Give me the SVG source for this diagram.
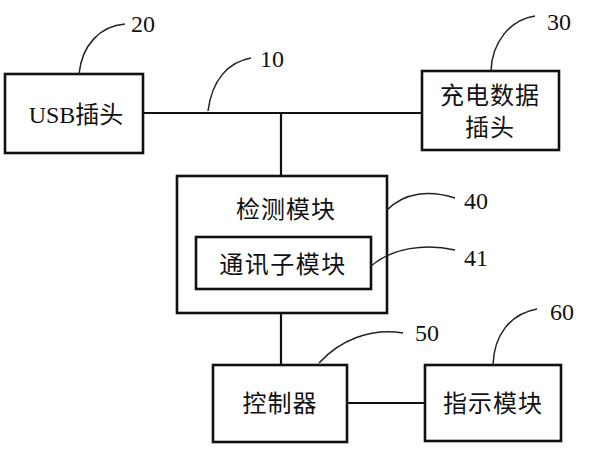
<svg xmlns="http://www.w3.org/2000/svg" width="596" height="450" viewBox="0 0 596 450">
<style>
.box{fill:none;stroke:#111;stroke-width:2.6}
.ln{fill:none;stroke:#111;stroke-width:2.2}
.ld{fill:none;stroke:#222;stroke-width:1.5}
.t{font-family:"Liberation Serif","DejaVu Serif","Noto Sans CJK SC",serif;font-size:24px;fill:#111;text-anchor:middle}
.n{font-family:"Liberation Serif","DejaVu Serif",serif;font-size:24px;fill:#111}
</style>
<rect width="596" height="450" fill="#fff"/>
<g id="connectors">
<path class="ln" d="M143,113 H422 M281,113 V176 M281,313 V365 M347,403 H425"/>
</g>
<g id="usb">
<rect class="box" x="5" y="74" width="138" height="79"/>
<text class="t" x="76" y="123">USB插头</text>
</g>
<g id="charge">
<rect class="box" x="422" y="71" width="137" height="79"/>
<text class="t" x="490" y="104" letter-spacing="1">充电数据</text>
<text class="t" x="490" y="136" letter-spacing="1">插头</text>
</g>
<g id="detect">
<rect class="box" x="177" y="176" width="210" height="137"/>
<text class="t" x="286" y="218" letter-spacing="1">检测模块</text>
</g>
<g id="comm">
<rect class="box" x="196" y="237" width="175" height="52"/>
<text class="t" x="283" y="273" letter-spacing="1.5">通讯子模块</text>
</g>
<g id="controller">
<rect class="box" x="213" y="365" width="134" height="77"/>
<text class="t" x="280" y="412" letter-spacing="1">控制器</text>
</g>
<g id="indicator">
<rect class="box" x="425" y="365" width="136" height="76"/>
<text class="t" x="493" y="412" letter-spacing="1">指示模块</text>
</g>
<g id="labels">
<path class="ld" d="M79,74 C82,45 100,26 125,24"/>
<text class="n" x="131" y="32">20</text>
<path class="ld" d="M208,111 C212,80 228,62 251,58"/>
<text class="n" x="260" y="67">10</text>
<path class="ld" d="M491,71 C492,42 510,20 535,16"/>
<text class="n" x="547" y="30">30</text>
<path class="ld" d="M387,210 C405,192 430,190 455,198"/>
<text class="n" x="464" y="209">40</text>
<path class="ld" d="M371,266 C392,248 425,243 455,250"/>
<text class="n" x="464" y="266">41</text>
<path class="ld" d="M319,363 C340,340 370,328 403,333"/>
<text class="n" x="415" y="341">50</text>
<path class="ld" d="M493,365 C494,335 510,314 537,309"/>
<text class="n" x="550" y="320">60</text>
</g>
</svg>
